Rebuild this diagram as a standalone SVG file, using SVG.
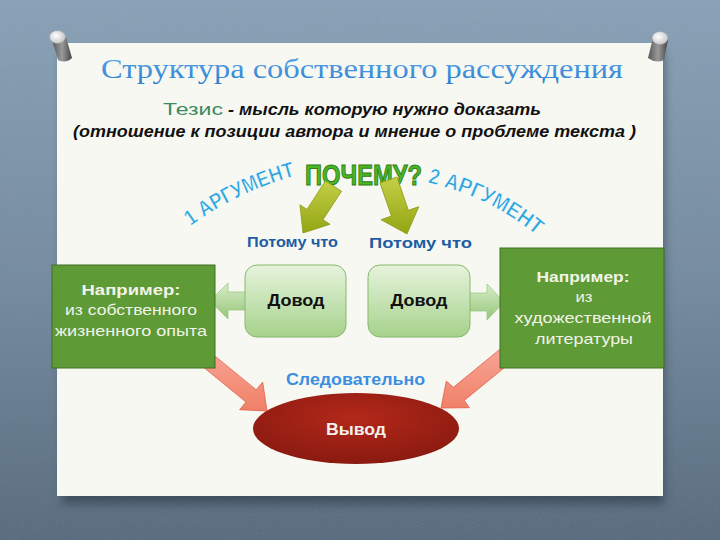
<svg xmlns="http://www.w3.org/2000/svg" width="720" height="540" viewBox="0 0 720 540">
<defs>
  <linearGradient id="bg" x1="0" y1="0" x2="0" y2="1">
    <stop offset="0" stop-color="#8ea9c0"/>
    <stop offset="0.5" stop-color="#768ea4"/>
    <stop offset="1" stop-color="#52667a"/>
  </linearGradient>
  <filter id="noise" x="0" y="0" width="100%" height="100%">
    <feTurbulence type="fractalNoise" baseFrequency="0.9" numOctaves="2" seed="3" result="n"/>
    <feColorMatrix in="n" type="matrix" values="0 0 0 0 0.2  0 0 0 0 0.25  0 0 0 0 0.3  0 0 0 0.45 0"/>
  </filter>
  <filter id="shadow" x="-10%" y="-10%" width="120%" height="130%">
    <feGaussianBlur stdDeviation="5"/>
  </filter>
  <linearGradient id="title" x1="0" y1="0" x2="0" y2="1">
    <stop offset="0" stop-color="#5aa8ea"/>
    <stop offset="1" stop-color="#2f7fcf"/>
  </linearGradient>
  <linearGradient id="yg" x1="0" y1="0" x2="0" y2="1">
    <stop offset="0" stop-color="#c4cf45"/>
    <stop offset="1" stop-color="#93a514"/>
  </linearGradient>
  <linearGradient id="dovod" x1="0" y1="0" x2="0" y2="1">
    <stop offset="0" stop-color="#e6f3dc"/>
    <stop offset="1" stop-color="#a6d28c"/>
  </linearGradient>
  <linearGradient id="ga" x1="0" y1="0" x2="0" y2="1">
    <stop offset="0" stop-color="#d8edc8"/>
    <stop offset="1" stop-color="#95c67a"/>
  </linearGradient>
  <linearGradient id="salmon" x1="0" y1="0" x2="0" y2="1">
    <stop offset="0" stop-color="#f8a898"/>
    <stop offset="1" stop-color="#f08068"/>
  </linearGradient>
  <radialGradient id="red" cx="0.5" cy="0.35" r="0.65">
    <stop offset="0" stop-color="#b3281a"/>
    <stop offset="1" stop-color="#8a1a10"/>
  </radialGradient>
  <linearGradient id="pin" x1="0" y1="0" x2="1" y2="0">
    <stop offset="0" stop-color="#555"/>
    <stop offset="0.5" stop-color="#9a9a9a"/>
    <stop offset="1" stop-color="#444"/>
  </linearGradient>
  <radialGradient id="pinhead" cx="0.4" cy="0.4" r="0.6">
    <stop offset="0" stop-color="#ffffff"/>
    <stop offset="1" stop-color="#c8c8c8"/>
  </radialGradient>
  <path id="arcL" d="M 173.1 239.9 A 320 320 0 0 1 323.2 169.9"/>
  <path id="arcR" d="M 397.8 178.5 A 250 250 0 0 1 567.5 266.8"/>
</defs>
<style>
  .sans { font-family: "Liberation Sans", Arial, sans-serif; }
  .box { fill: #5e9a36; stroke: #3f6e22; stroke-width: 1; }
  .boxtxt { fill: #f2f4e8; font-size: 15px; text-anchor: middle; }
  .dovod { fill: url(#dovod); stroke: #86b96a; stroke-width: 1; }
  .dovtxt { fill: #111; font-size: 16px; font-weight: bold; text-anchor: middle; }
  .because { fill: #1e5da3; font-size: 15px; font-weight: bold; }
  .arg { fill: #2aa4dc; font-size: 22px; font-weight: bold; stroke: #ffffff; stroke-width: 0.6; }
  .yarrow { fill: url(#yg); stroke: #8a9a10; stroke-width: 0.8; }
  .garrow { fill: url(#ga); stroke: #9cc884; stroke-width: 0.8; }
  .sarrow { fill: url(#salmon); stroke: #e0604a; stroke-width: 0.8; }
</style>

<!-- background -->
<rect x="0" y="0" width="720" height="540" fill="url(#bg)"/>
<rect x="0" y="0" width="720" height="540" filter="url(#noise)"/>

<!-- paper -->
<rect x="62" y="52" width="602" height="452" fill="#27323c" opacity="0.55" filter="url(#shadow)"/>
<rect id="paper" x="57" y="43" width="606" height="453" fill="#f8f8f3"/>

<!-- pins -->
<g id="pin-left">
  <path d="M 52 40 L 66 37 L 72 58 Q 66 64 58 60 Z" fill="url(#pin)"/>
  <ellipse cx="57.5" cy="37" rx="8" ry="6.5" fill="url(#pinhead)" stroke="#999" stroke-width="0.5"/>
</g>
<g id="pin-right">
  <path d="M 653 38 L 668 40 L 664 60 Q 656 64 648 58 Z" fill="url(#pin)"/>
  <ellipse cx="660" cy="38" rx="8" ry="6.5" fill="url(#pinhead)" stroke="#999" stroke-width="0.5"/>
</g>

<!-- title -->
<g id="title">
  <text x="101" y="78" font-family="Liberation Serif, 'Times New Roman', serif" font-size="27" fill="url(#title)" textLength="522" lengthAdjust="spacingAndGlyphs">Структура собственного рассуждения</text>
</g>

<!-- thesis -->
<g id="thesis" class="sans">
  <text x="163" y="115" font-size="17" fill="#3a8a5e" textLength="60" lengthAdjust="spacingAndGlyphs">Тезис</text>
  <text x="228" y="115" font-size="16" font-weight="bold" font-style="italic" fill="#111" textLength="313" lengthAdjust="spacingAndGlyphs">- мысль которую нужно доказать</text>
  <text x="73" y="137" font-size="16" font-weight="bold" font-style="italic" fill="#111" textLength="563" lengthAdjust="spacingAndGlyphs">(отношение к позиции автора и мнение о проблеме текста )</text>
</g>

<!-- why -->
<g id="why" class="sans">
  <text x="305" y="185" font-size="29" font-weight="bold" fill="#4cb526" stroke="#2c7f14" stroke-width="1" textLength="117" lengthAdjust="spacingAndGlyphs">ПОЧЕМУ?</text>
</g>

<!-- argument labels -->
<g id="arg1" class="sans">
  <text class="arg"><textPath href="#arcL" startOffset="22" textLength="117" lengthAdjust="spacingAndGlyphs">1 АРГУМЕНТ</textPath></text>
</g>
<g id="arg2" class="sans">
  <text class="arg"><textPath href="#arcR" startOffset="30" textLength="122" lengthAdjust="spacingAndGlyphs">2 АРГУМЕНТ</textPath></text>
</g>

<!-- connectors -->
<g id="connectors">
  <polygon class="yarrow" points="325.5,180.8 307.0,209.4 299.9,204.7 303,233 330.1,224.3 323.0,219.7 341.5,191.2"/>
  <polygon class="yarrow" points="380.0,182.9 391.4,216.1 381.0,219.7 407,234 418.8,206.7 408.4,210.3 397.0,177.1"/>
  <polygon class="garrow" points="246,292 228,292 228,283 210,301 228,319 228,310 246,310"/>
  <polygon class="garrow" points="469,293 487,293 487,284 504,302 487,320 487,311 469,311"/>
  <polygon class="sarrow" points="189.9,356.1 246.0,402.0 239.6,409.7 267,411 262.7,382.1 256.2,389.8 200.1,343.9"/>
  <polygon class="sarrow" points="504.5,345.5 453.4,387.3 446.3,381.1 441,408 469.4,407.7 464.3,400.4 515.5,358.5"/>
</g>

<!-- example boxes -->
<g id="example-left" class="sans">
  <rect class="box" x="52" y="265" width="163" height="103"/>
  <text class="boxtxt" x="131" y="295" font-weight="bold" textLength="99" lengthAdjust="spacingAndGlyphs">Например:</text>
  <text class="boxtxt" x="131" y="315" textLength="132" lengthAdjust="spacingAndGlyphs">из собственного</text>
  <text class="boxtxt" x="131" y="336" textLength="152" lengthAdjust="spacingAndGlyphs">жизненного опыта</text>
</g>
<g id="example-right" class="sans">
  <rect class="box" x="500" y="248" width="164" height="120"/>
  <text class="boxtxt" x="583" y="282" font-weight="bold" textLength="93" lengthAdjust="spacingAndGlyphs">Например:</text>
  <text class="boxtxt" x="584" y="302" textLength="17" lengthAdjust="spacingAndGlyphs">из</text>
  <text class="boxtxt" x="583" y="323" textLength="137" lengthAdjust="spacingAndGlyphs">художественной</text>
  <text class="boxtxt" x="584" y="344" textLength="98" lengthAdjust="spacingAndGlyphs">литературы</text>
</g>

<!-- because labels -->
<g id="because-left" class="sans"><text class="because" x="247" y="247" textLength="91" lengthAdjust="spacingAndGlyphs">Потому что</text></g>
<g id="because-right" class="sans"><text class="because" x="369" y="248" textLength="103" lengthAdjust="spacingAndGlyphs">Потому что</text></g>

<!-- argument boxes -->
<g id="dovod-left" class="sans">
  <rect class="dovod" x="245" y="265" width="101" height="72" rx="12"/>
  <text class="dovtxt" x="296" y="306" textLength="57" lengthAdjust="spacingAndGlyphs">Довод</text>
</g>
<g id="dovod-right" class="sans">
  <rect class="dovod" x="368" y="265" width="102" height="72" rx="12"/>
  <text class="dovtxt" x="419" y="306" textLength="57" lengthAdjust="spacingAndGlyphs">Довод</text>
</g>

<!-- therefore -->
<g id="therefore" class="sans">
  <text x="286" y="385" font-size="16" font-weight="bold" fill="#3b8ee0" textLength="139" lengthAdjust="spacingAndGlyphs">Следовательно</text>
</g>

<!-- conclusion -->
<g id="conclusion" class="sans">
  <ellipse cx="356" cy="428.5" rx="103" ry="35.5" fill="url(#red)"/>
  <text x="356" y="435" font-size="16" font-weight="bold" fill="#f4f0ea" text-anchor="middle" textLength="60" lengthAdjust="spacingAndGlyphs">Вывод</text>
</g>
</svg>
